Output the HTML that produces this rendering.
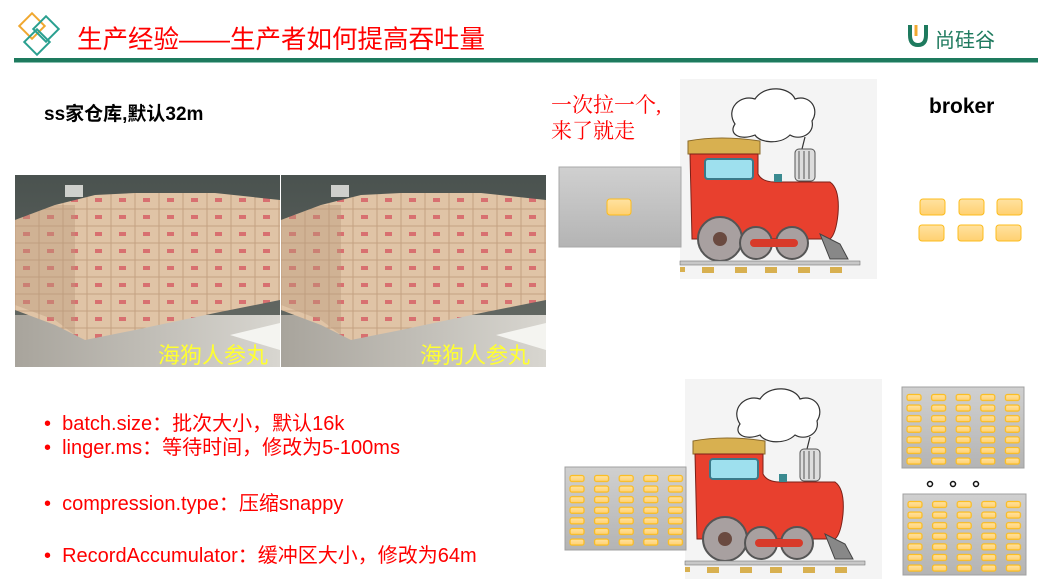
<!DOCTYPE html>
<html><head><meta charset="utf-8"><style>
html,body{margin:0;padding:0;background:#fff;}
body{width:1047px;height:582px;position:relative;overflow:hidden;font-family:"Liberation Sans","Noto Sans CJK SC",sans-serif;}
.t{position:absolute;white-space:nowrap;}
</style></head><body>
<svg width="1047" height="582" style="position:absolute;left:0;top:0">
<defs>
<linearGradient id="gb" x1="0" y1="0" x2="0" y2="1"><stop offset="0" stop-color="#d0d0d0"/><stop offset="1" stop-color="#b4b4b4"/></linearGradient>
<linearGradient id="py" x1="0" y1="0" x2="0" y2="1"><stop offset="0" stop-color="#ffe2a0"/><stop offset="1" stop-color="#ffd070"/></linearGradient>
<pattern id="p1" x="569" y="474" width="24.6" height="10.6" patternUnits="userSpaceOnUse"><rect x="1" y="1.5" width="14" height="6" rx="2" fill="url(#py)" stroke="#fcbc1c" stroke-width="1.2"/></pattern>
<pattern id="p2" x="906" y="393" width="24.6" height="10.6" patternUnits="userSpaceOnUse"><rect x="1" y="1.5" width="14" height="6" rx="2" fill="url(#py)" stroke="#fcbc1c" stroke-width="1.2"/></pattern>
<pattern id="p3" x="907" y="500" width="24.6" height="10.6" patternUnits="userSpaceOnUse"><rect x="1" y="1.5" width="14" height="6" rx="2" fill="url(#py)" stroke="#fcbc1c" stroke-width="1.2"/></pattern>
<linearGradient id="wall" x1="0" y1="0" x2="0" y2="1"><stop offset="0" stop-color="#4a524f"/><stop offset="1" stop-color="#6a6e68"/></linearGradient>
<linearGradient id="floor" x1="0" y1="0" x2="1" y2="0"><stop offset="0" stop-color="#a8a49c"/><stop offset="1" stop-color="#d8d6d0"/></linearGradient>
<pattern id="boxes" width="24" height="17" patternUnits="userSpaceOnUse"><rect width="24" height="17" fill="#e0c4a6"/><rect x="0" y="0" width="24" height="17" fill="none" stroke="#c4a282" stroke-width="1"/><rect x="8" y="6" width="7" height="4" fill="#d87070"/></pattern>
<g id="photo">
<rect width="265" height="192" fill="url(#wall)"/>
<rect x="0" y="140" width="265" height="52" fill="url(#floor)"/>
<polygon points="0,45 40,30 80,20 120,18 200,18 265,25 265,125 200,138 120,155 70,165 40,150 0,135" fill="url(#boxes)"/>
<polygon points="0,45 40,30 60,30 60,160 40,145 0,130" fill="#b8987a" opacity="0.4"/>
<rect x="50" y="10" width="18" height="12" fill="#cfd0cc"/>
<polygon points="215,160 265,148 265,175" fill="#f4f4f0"/>
</g>
<g id="train">
<rect width="197" height="200" fill="#f4f4f4"/>
<path d="M55,45 C45,30 60,15 75,20 C85,5 110,8 115,20 C130,15 140,30 132,42 C135,55 120,62 110,56 C100,66 80,64 75,56 C60,62 48,55 55,45Z" fill="#fff" stroke="#333" stroke-width="1.2"/>
<path d="M125,58 L122,70" stroke="#333" stroke-width="1.2"/>
<rect x="115" y="70" width="20" height="32" rx="4" fill="#ddd" stroke="#555"/>
<path d="M119,72 V100 M124,72 V100 M129,72 V100" stroke="#555"/>
<path d="M8,62 Q40,56 80,62 L80,75 L8,75Z" fill="#d8b050" stroke="#8a6a2a"/>
<path d="M10,75 H78 V95 Q82,103 95,103 H150 Q160,110 158,135 Q156,155 150,160 H12 Z" fill="#e8402e" stroke="#7a2018" stroke-width="1"/>
<rect x="25" y="80" width="48" height="20" rx="3" fill="#9ee0ee" stroke="#3a7a8a" stroke-width="2"/>
<rect x="94" y="95" width="8" height="8" fill="#3a8a90"/>
<path d="M140,155 L160,165 L168,180 L150,180 Z" fill="#888" stroke="#444"/>
<circle cx="40" cy="160" r="22" fill="#a8a0a0" stroke="#555" stroke-width="2"/><circle cx="40" cy="160" r="7" fill="#6a4a40"/>
<circle cx="76" cy="164" r="16" fill="#a8a0a0" stroke="#555" stroke-width="2"/>
<circle cx="112" cy="164" r="16" fill="#a8a0a0" stroke="#555" stroke-width="2"/>
<rect x="70" y="160" width="48" height="8" rx="4" fill="#d83a2a"/>
<rect x="0" y="182" width="180" height="4" fill="#c8c8c8" stroke="#777" stroke-width="0.6"/>
<g fill="#d8b050"><rect x="0" y="188" width="5" height="5"/><rect x="22" y="188" width="12" height="6"/><rect x="55" y="188" width="12" height="6"/><rect x="85" y="188" width="12" height="6"/><rect x="118" y="188" width="12" height="6"/><rect x="150" y="188" width="12" height="6"/></g>
</g>
</defs>
<g fill="none" stroke-width="2">
<rect x="23" y="17" width="18" height="18" transform="rotate(45 32 26)" stroke="#f0a830"/>
<rect x="37" y="20" width="18" height="18" transform="rotate(45 46 29)" stroke="#2aa090"/>
<rect x="28" y="33" width="18" height="18" transform="rotate(45 37 42)" stroke="#2aa090"/>
</g>
<rect x="14" y="58" width="1024" height="4" fill="#1e7a5e"/>
<rect x="14" y="62" width="1024" height="1" fill="#8ac0b0"/>
<path d="M910,25 V35 Q910,45 918,45 Q926,45 926,35 V25" fill="none" stroke="#1e7a5e" stroke-width="4"/>
<path d="M916,25 V36" stroke="#f0a830" stroke-width="3"/>
<use href="#photo" x="15" y="175"/>
<use href="#photo" x="281" y="175"/>
<use href="#train" x="680" y="79"/>
<use href="#train" x="685" y="379"/>
<rect x="559" y="167" width="122" height="80" fill="url(#gb)" stroke="#a8a8a8"/>
<rect x="607" y="199" width="24" height="16" rx="3" fill="url(#py)" stroke="#fcbc1c"/>
<g fill="url(#py)" stroke="#fcbc1c">
<rect x="920" y="199" width="25" height="16" rx="3"/><rect x="959" y="199" width="25" height="16" rx="3"/><rect x="997" y="199" width="25" height="16" rx="3"/>
<rect x="919" y="225" width="25" height="16" rx="3"/><rect x="958" y="225" width="25" height="16" rx="3"/><rect x="996" y="225" width="25" height="16" rx="3"/>
</g>
<rect x="565" y="467" width="121" height="83" fill="url(#gb)" stroke="#a0a0a0"/>
<rect x="569" y="474" width="116" height="74" fill="url(#p1)"/>
<rect x="902" y="387" width="122" height="81" fill="url(#gb)" stroke="#a0a0a0"/>
<rect x="906" y="393" width="117" height="74" fill="url(#p2)"/>
<rect x="903" y="494" width="123" height="81" fill="url(#gb)" stroke="#a0a0a0"/>
<rect x="907" y="500" width="118" height="74" fill="url(#p3)"/>
<g fill="none" stroke="#111" stroke-width="1.5"><circle cx="930" cy="484" r="2.5"/><circle cx="953" cy="484" r="2.5"/><circle cx="976" cy="484" r="2.5"/></g>
</svg>
<div class="t" style="left:77px;top:19px;font-size:25.5px;color:#f00;">生产经验——生产者如何提高吞吐量</div>
<div class="t" style="left:935px;top:24px;font-size:20px;color:#1e7a5e;">尚硅谷</div>
<div class="t" style="left:44px;top:99px;font-size:19px;font-weight:bold;color:#000;">ss家仓库,默认32m</div>
<div class="t" style="left:551px;top:92px;font-size:21px;line-height:26px;color:#f00;font-family:'Liberation Serif','Noto Serif CJK SC',serif;">一次拉一个,<br>来了就走</div>
<div class="t" style="left:929px;top:95px;font-size:21px;font-weight:bold;color:#000;">broker</div>
<div class="t" style="left:158px;top:338px;font-size:22px;color:#ffff30;">海狗人参丸</div>
<div class="t" style="left:420px;top:338px;font-size:22px;color:#ffff30;">海狗人参丸</div>
<div class="t" style="left:44px;top:412px;font-size:20px;line-height:24px;color:#f00;">
•&nbsp;&nbsp;batch.size：批次大小，默认16k<br>
•&nbsp;&nbsp;linger.ms：等待时间，修改为5-100ms</div>
<div class="t" style="left:44px;top:487px;font-size:20px;color:#f00;">•&nbsp;&nbsp;compression.type：压缩snappy</div>
<div class="t" style="left:44px;top:539px;font-size:20px;color:#f00;">•&nbsp;&nbsp;RecordAccumulator：缓冲区大小，修改为64m</div>
</body></html>
